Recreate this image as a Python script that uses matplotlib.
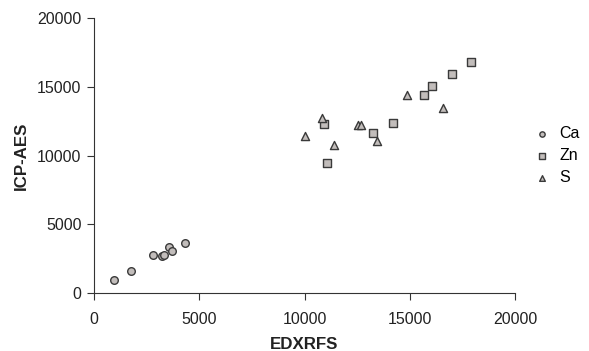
import matplotlib
matplotlib.use("Agg")
import matplotlib.pyplot as plt

ca_x = [960, 1760, 2790, 3210, 3340, 3580, 3690, 4340]
ca_y = [920, 1600, 2790, 2710, 2790, 3320, 3060, 3640]
zn_x = [17910, 16990, 16070, 15660, 14190, 13240, 10910, 11070]
zn_y = [16820, 15930, 15030, 14420, 12390, 11660, 12310, 9430]
s_x = [14890, 16580, 10850, 12530, 12680, 10020, 11400, 13440]
s_y = [14380, 13460, 12760, 12200, 12200, 11400, 10790, 11030]

plt.rcParams['font.family'] = ['Liberation Sans', 'DejaVu Sans']
fig = plt.figure(figsize=(5.89, 3.51), dpi=100)
ax = fig.add_axes([0.1596, 0.1652, 0.7148, 0.7835])
fc = '#c2bdbb'
ec = '#3a3a3a'
ax.scatter(ca_x, ca_y, marker='o', s=30, facecolor=fc, edgecolor=ec, linewidth=1.0, label='Ca', zorder=3)
ax.scatter(zn_x, zn_y, marker='s', s=28, facecolor=fc, edgecolor=ec, linewidth=1.0, label='Zn', zorder=3)
ax.scatter(s_x, s_y, marker='^', s=34, facecolor=fc, edgecolor=ec, linewidth=1.0, label='S', zorder=3)

ax.set_xlim(0, 20000)
ax.set_ylim(0, 20000)
ax.set_xticks([0, 5000, 10000, 15000, 20000])
ax.set_yticks([0, 5000, 10000, 15000, 20000])
for sp in ['top', 'right']:
    ax.spines[sp].set_visible(False)
for sp in ['left', 'bottom']:
    ax.spines[sp].set_color('#333333')
    ax.spines[sp].set_linewidth(0.8)
ax.tick_params(direction='out', length=5, width=0.8, colors='#333333', labelsize=11.5, labelcolor='#222222')
ax.tick_params(axis='x', pad=9)
ax.tick_params(axis='y', pad=4)
xl = ax.set_xlabel('EDXRFS', fontsize=12.2, fontweight='bold', color='#222222')
xl.set_va('baseline')
ax.xaxis.set_label_coords(0.5, -0.205)
ax.set_ylabel('ICP-AES', fontsize=12.2, fontweight='bold', color='#222222', labelpad=6)

leg = ax.legend(loc='center left', bbox_to_anchor=(1.01, 0.5), frameon=False, fontsize=11.5,
                markerscale=0.7, handletextpad=0.1, labelspacing=0.45, borderaxespad=0)
fig.savefig('out.png', dpi=100)
